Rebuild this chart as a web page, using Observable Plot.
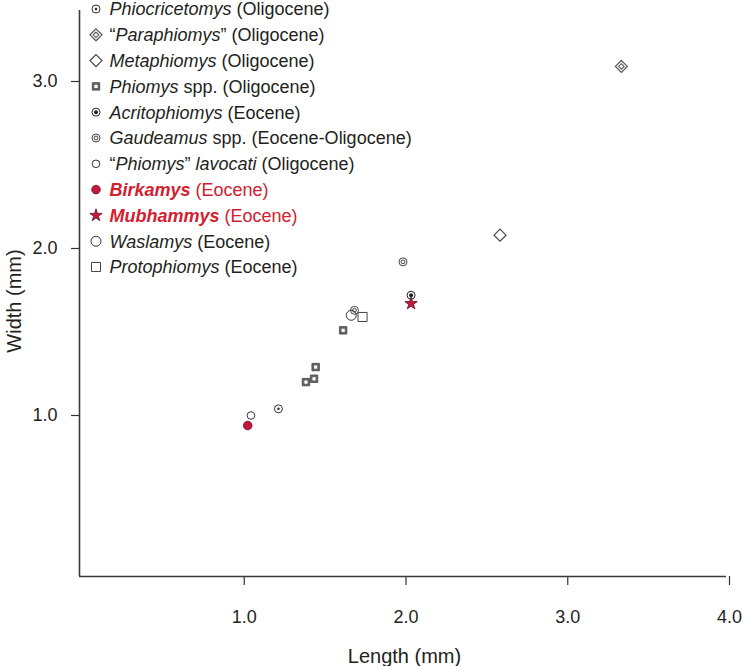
<!DOCTYPE html>
<html><head><meta charset="utf-8">
<script src="https://cdn.jsdelivr.net/npm/d3@7"></script>
<script src="https://cdn.jsdelivr.net/npm/@observablehq/plot@0.6"></script>
<style>body{margin:0;background:#fff}#chart{width:742px;height:666px}</style>
</head><body><div id="chart"></div>
<script>
// ---- data ----
const taxa = ["Phiocricetomys","Paraphiomys","Metaphiomys","Phiomys spp.","Acritophiomys","Gaudeamus spp.","Phiomys lavocati","Birkamys","Mubhammys","Waslamys","Protophiomys"];
const legendLabels = [
  "*Phiocricetomys* (Oligocene)",
  "“*Paraphiomys*” (Oligocene)",
  "*Metaphiomys* (Oligocene)",
  "*Phiomys* spp. (Oligocene)",
  "*Acritophiomys* (Eocene)",
  "*Gaudeamus* spp. (Eocene-Oligocene)",
  "“*Phiomys*” *lavocati* (Oligocene)",
  "**Birkamys** (Eocene)",
  "**Mubhammys** (Eocene)",
  "*Waslamys* (Eocene)",
  "*Protophiomys* (Eocene)"
];
const highlighted = ["Birkamys","Mubhammys"];
const pointTaxon = ["Phiocricetomys","Paraphiomys","Metaphiomys","Phiomys spp.","Phiomys spp.","Phiomys spp.","Phiomys spp.","Acritophiomys","Gaudeamus spp.","Gaudeamus spp.","Phiomys lavocati","Birkamys","Mubhammys","Waslamys","Protophiomys"];
const pointLength = [1.23, 3.35, 2.60, 1.63, 1.46, 1.45, 1.40, 2.05, 2.00, 1.70, 1.06, 1.04, 2.05, 1.68, 1.75];
const pointWidth  = [1.04, 3.09, 2.08, 1.51, 1.29, 1.22, 1.20, 1.72, 1.92, 1.63, 1.00, 0.94, 1.67, 1.60, 1.59];
const xTicks = [1, 2, 3, 4];
const yTicks = [1, 2, 3];
const xDomain = [0, 4];
const yDomain = [0.036, 3.425];
const xTitle = "Length (mm)";
const yTitle = "Width (mm)";

// ---- styles ----
const ink = "#231f20", red = "#d3202f", dotRed = "#c8173f", darkRed = "#5a1020";
const styles = {
  "Phiocricetomys": [{symbol:"circle", r:4, fill:"white", stroke:"#333", sw:1}, {symbol:"circle", r:1.3, fill:"#333", stroke:"none", sw:0}],
  "Paraphiomys": [{symbol:"diamond2", r:5.4, fill:"white", stroke:"#555", sw:1.2}, {symbol:"diamond2", r:2.5, fill:"none", stroke:"#555", sw:1.1}],
  "Metaphiomys": [{symbol:"diamond2", r:5.4, fill:"white", stroke:"#444", sw:1.2}],
  "Phiomys spp.": [{symbol:"square", r:4.2, fill:"#666", stroke:"#444", sw:0.8}, {symbol:"square", r:1.8, fill:"white", stroke:"none", sw:0}],
  "Acritophiomys": [{symbol:"circle", r:4, fill:"white", stroke:"#222", sw:1}, {symbol:"circle", r:2, fill:"#222", stroke:"none", sw:0}],
  "Gaudeamus spp.": [{symbol:"circle", r:4, fill:"none", stroke:"#444", sw:1}, {symbol:"circle", r:1.9, fill:"none", stroke:"#444", sw:1}],
  "Phiomys lavocati": [{symbol:"circle", r:3.8, fill:"white", stroke:"#333", sw:1}],
  "Birkamys": [{symbol:"circle", r:4.3, fill:dotRed, stroke:darkRed, sw:0.8}],
  "Mubhammys": [{symbol:"star", r:3.9, fill:dotRed, stroke:darkRed, sw:0.8}],
  "Waslamys": [{symbol:"circle", r:5, fill:"none", stroke:"#333", sw:1}],
  "Protophiomys": [{symbol:"square", r:5.1, fill:"none", stroke:"#444", sw:1}]
};
const d3Symbols = {circle: d3.symbolCircle, square: d3.symbolSquare, diamond2: d3.symbolDiamond2, star: d3.symbolStar};

const points = pointTaxon.map((t, i) => ({taxon: t, length: pointLength[i], width: pointWidth[i]}));
const font = "'Liberation Sans', Arial, Helvetica, sans-serif";

const dotMarks = [];
taxa.forEach(t => {
  const pts = points.filter(p => p.taxon === t);
  styles[t].forEach(l => dotMarks.push(Plot.dot(pts, {x: "length", y: "width", symbol: l.symbol, r: l.r, fill: l.fill, stroke: l.stroke, strokeWidth: l.sw})));
});

const W = 742, H = 666, mL = 79, mR = 16, mT = 10, mB = 90;
const chart = Plot.plot({
  width: W, height: H,
  marginLeft: mL, marginRight: mR, marginTop: mT, marginBottom: mB,
  style: {fontSize: "18px", fontFamily: font, color: ink, background: "white"},
  x: {domain: xDomain},
  y: {domain: yDomain},
  marks: [
    Plot.axisX({ticks: xTicks, tickFormat: d3.format(".1f"), tickSize: 9, tickPadding: 25, dx: 3, label: null, stroke: "#333", strokeWidth: 1.2}),
    Plot.axisY({ticks: yTicks, tickFormat: d3.format(".1f"), tickSize: 8, tickPadding: 14, label: null, stroke: "#333", strokeWidth: 1.2}),
    Plot.ruleX([xDomain[0]], {stroke: "#3a3a3a", strokeWidth: 1.6}),
    Plot.ruleY([yDomain[0]], {stroke: "#3a3a3a", strokeWidth: 1.6}),
    ...dotMarks
  ]
});
document.getElementById("chart").appendChild(chart);

const svg = d3.select(chart);
// ---- axis titles ----
svg.append("text").attr("x", (mL + W - mR) / 2 + 2).attr("y", H - 10)
  .attr("text-anchor", "middle").attr("dy", "0.36em").attr("font-family", font).attr("font-size", 20).attr("fill", ink).text(xTitle);
svg.append("text").attr("transform", `translate(14,${(mT + H - mB) / 2 + 8}) rotate(-90)`)
  .attr("text-anchor", "middle").attr("dy", "0.36em").attr("font-family", font).attr("font-size", 20).attr("fill", ink).text(yTitle);

// ---- legend (inside plot area) ----
const lg = svg.append("g").attr("font-family", font).attr("font-size", 18).attr("text-anchor", "start");
legendLabels.forEach((lab, i) => {
  const t = taxa[i];
  const y = 9 + i * 25.8;
  styles[t].forEach(l => {
    lg.append("path")
      .attr("transform", `translate(96,${y})`)
      .attr("d", d3.symbol(d3Symbols[l.symbol], Math.PI * l.r * l.r)())
      .attr("fill", l.fill).attr("stroke", l.stroke).attr("stroke-width", l.sw);
  });
  const isRed = highlighted.includes(t);
  const text = lg.append("text").attr("x", 109.5).attr("y", y).attr("dy", "0.36em").attr("fill", isRed ? red : ink);
  const parts = lab.match(/\*\*[^*]+\*\*|\*[^*]+\*|[^*]+/g);
  parts.forEach(p => {
    const ts = text.append("tspan");
    if (p.startsWith("**")) ts.text(p.slice(2, -2)).attr("font-style", "italic").attr("font-weight", "bold");
    else if (p.startsWith("*")) ts.text(p.slice(1, -1)).attr("font-style", "italic");
    else ts.text(p);
  });
});
</script>
</body></html>
